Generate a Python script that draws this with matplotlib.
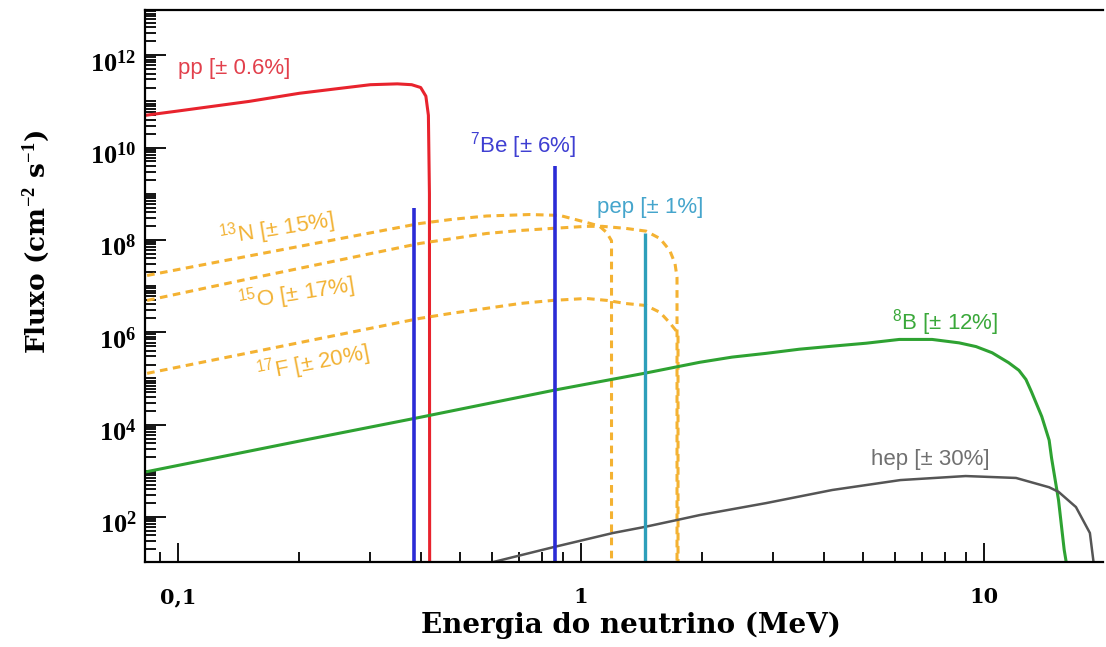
import numpy as np
import matplotlib
matplotlib.use("Agg")
import matplotlib.pyplot as plt
import matplotlib.transforms as mtrans
from matplotlib.ticker import LogLocator, FixedLocator, FixedFormatter, FuncFormatter, NullFormatter

plt.rcParams['mathtext.fontset'] = 'custom'
plt.rcParams['mathtext.rm'] = 'Liberation Serif'
plt.rcParams['mathtext.bf'] = 'Liberation Serif:bold'
plt.rcParams['mathtext.sf'] = 'Liberation Sans'

# spectra (E in MeV, flux in cm^-2 s^-1)
pp_E = [0.083, 0.1, 0.15, 0.2, 0.25, 0.3, 0.35, 0.38, 0.40, 0.412, 0.418, 0.4205, 0.421]
pp_F = [5.0e10, 6.2e10, 1.0e11, 1.5e11, 1.9e11, 2.3e11, 2.4e11, 2.3e11, 2.0e11, 1.3e11, 5e10, 1e9, 10]

n13_E = [0.0838, 0.15, 0.398, 0.48, 0.583, 0.745, 0.885, 1.03, 1.11, 1.157, 1.19, 1.19]
n13_F = [1.7e7, 4.5e7, 2.27e8, 2.8e8, 3.3e8, 3.55e8, 3.4e8, 2.4e8, 2.0e8, 1.45e8, 9.6e7, 10]

o15_E = [0.0838, 0.15, 0.398, 0.48, 0.583, 0.705, 0.85, 1.03, 1.13, 1.29, 1.45, 1.57, 1.66, 1.71, 1.73, 1.73]
o15_F = [4.9e6, 1.44e7, 8.4e7, 1.07e8, 1.38e8, 1.6e8, 1.78e8, 1.97e8, 1.97e8, 1.78e8, 1.55e8, 1.07e8, 5.9e7, 3.1e7, 1.55e7, 10]

f17_E = [0.0838, 0.398, 0.48, 0.583, 0.705, 0.85, 1.03, 1.16, 1.29, 1.45, 1.57, 1.66, 1.74, 1.74]
f17_F = [1.29e5, 2.0e6, 2.6e6, 3.3e6, 4.2e6, 4.9e6, 5.4e6, 4.9e6, 4.2e6, 3.8e6, 2.7e6, 1.6e6, 9.6e5, 10]

b8_E = [0.0828, 0.2, 0.4, 0.86, 1.44, 1.97, 2.37, 2.88, 3.48, 4.2, 5.1, 6.16, 7.43,
        8.67, 9.55, 10.47, 11.5, 12.2, 12.7, 13.1, 13.9, 14.5, 14.7, 15.3, 15.8, 16.0]
b8_F = [9.4e2, 4.4e3, 1.45e4, 5.6e4, 1.3e5, 2.24e5, 2.9e5, 3.5e5, 4.3e5, 5.0e5, 5.8e5, 7.0e5, 7.0e5,
        5.9e5, 4.9e5, 3.6e5, 2.2e5, 1.5e5, 9.5e4, 5.2e4, 1.5e4, 4.6e3, 1.9e3, 2.3e2, 19.5, 10]

hep_E = [0.59, 0.85, 1.2, 1.44, 1.73, 1.97, 2.88, 4.2, 6.2, 9.0, 12.0, 14.5, 15.3, 16.9, 18.3, 18.7]
hep_F = [10, 22, 45, 61, 86, 110, 200, 384, 630, 770, 700, 440, 350, 164, 45, 10]

# monoenergetic lines
be7_E = [0.384, 0.862]
be7_F = [4.8e8, 4.0e9]
pep_E = [1.44]
pep_F = [1.4e8]

fig = plt.figure(figsize=(11.06, 6.47), dpi=100)
ax = fig.add_axes([0.1311, 0.1314, 0.866, 0.853])

red = '#e8232d'
blue = '#2b2bd6'
teal = '#2d9fba'
gold = '#f4b232'
green = '#2ea232'
grey = '#555555'

ax.plot(pp_E, pp_F, color=red, lw=2.2)
ax.plot(n13_E, n13_F, color=gold, lw=2.2, ls=(0, (2.5, 1.8)))
ax.plot(o15_E, o15_F, color=gold, lw=2.2, ls=(0, (2.5, 1.8)))
ax.plot(f17_E, f17_F, color=gold, lw=2.2, ls=(0, (2.5, 1.8)))
ax.plot(b8_E, b8_F, color=green, lw=2.2)
ax.plot(hep_E, hep_F, color=grey, lw=1.8)
ax.vlines(be7_E, 1, be7_F, color=blue, lw=2.6)
ax.vlines(pep_E, 1, pep_F, color=teal, lw=2.4)

ax.set_xscale('log')
ax.set_yscale('log')
ax.set_xlim(0.0828, 19.7)
ax.set_ylim(10.6, 9.5e12)

# labels on the curves
lab_kw = dict(fontsize=16, family='Liberation Sans', va='center', ha='left')
ax.text(0.1, 10**11.71, 'pp [± 0.6%]', color='#e2404c', **lab_kw)
ax.text(0.529, 10**10.04, r'$^{\mathsf{7}}$Be [± 6%]', color='#3f3fd2', **lab_kw)
ax.text(1.093, 10**8.70, 'pep [± 1%]', color='#45a5cc', **lab_kw)
ax.text(5.92, 10**6.22, r'$^{\mathsf{8}}$B [± 12%]', color='#3aa83a', **lab_kw)
ax.text(5.25, 10**3.25, 'hep [± 30%]', color='#707070', **lab_kw)
cno_kw = dict(fontsize=16, family='Liberation Sans', va='center', ha='center',
              color='#f2b234', rotation_mode='anchor')
ax.text(0.176, 10**8.25, r'$^{\mathsf{13}}$N [± 15%]', rotation=9, **cno_kw)
ax.text(0.197, 10**6.84, r'$^{\mathsf{15}}$O [± 17%]', rotation=9, **cno_kw)
ax.text(0.216, 10**5.33, r'$^{\mathsf{17}}$F [± 20%]', rotation=11, **cno_kw)

# ticks
ax.xaxis.set_major_locator(FixedLocator([0.1, 1, 10]))
ax.xaxis.set_major_formatter(FixedFormatter(['0,1', '1', '10']))
ax.xaxis.set_minor_locator(LogLocator(base=10, subs=np.arange(2, 10), numticks=50))
ax.xaxis.set_minor_formatter(NullFormatter())

ax.yaxis.set_major_locator(FixedLocator([1e2, 1e4, 1e6, 1e8, 1e10, 1e12]))
ax.yaxis.set_major_formatter(FuncFormatter(lambda v, p: r'$\mathbf{10^{%d}}$' % round(np.log10(v))))
ax.yaxis.set_minor_locator(LogLocator(base=10, subs=np.arange(1, 10), numticks=100))
ax.yaxis.set_minor_formatter(NullFormatter())

ax.tick_params(axis='both', which='both', direction='in', top=False, right=False, width=1.3)
ax.tick_params(axis='y', which='major', length=15, labelsize=19, pad=6)
ax.tick_params(axis='y', which='minor', length=8)
ax.tick_params(axis='x', which='major', length=14, labelsize=15, pad=18)
ax.tick_params(axis='x', which='minor', length=7)
for t in ax.get_xticklabels():
    t.set_fontfamily('DejaVu Serif')
    t.set_fontweight('bold')
shift = mtrans.ScaledTranslation(0, -6 / 100, fig.dpi_scale_trans)
for t in ax.get_yticklabels():
    t.set_transform(t.get_transform() + shift)

ax.spines['right'].set_visible(False)
for s in ['left', 'bottom', 'top']:
    ax.spines[s].set_linewidth(1.6)

ax.set_xlabel('Energia do neutrino (MeV)', fontsize=20, family='DejaVu Serif',
              fontweight='bold')
ax.xaxis.set_label_coords(0.507, -0.09)
ax.set_ylabel(r'Fluxo (cm$^{\mathbf{-2}}$ s$^{\mathbf{-1}}$)', fontsize=19,
              family='DejaVu Serif', fontweight='bold')
ax.yaxis.set_label_coords(-0.097, 0.58)

fig.savefig('out.png', dpi=100)
